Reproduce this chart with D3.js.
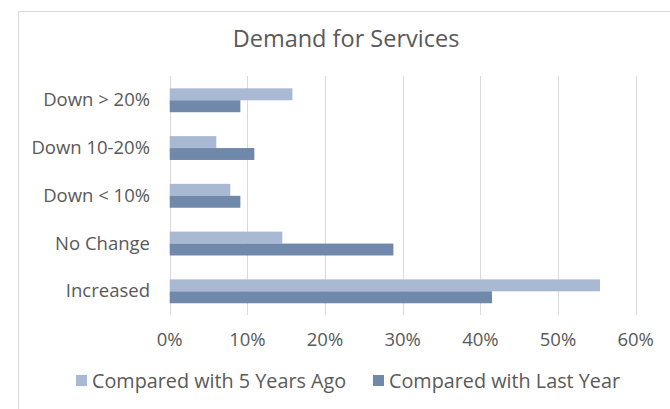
<!DOCTYPE html>
<html>
<head>
  <title>Demand for Services</title>
  <script src="https://d3js.org/d3.v7.min.js"></script>
  <style>
    body { margin: 0; background: #fff; }
    text { font-family: "Open Sans", sans-serif; fill: #595959; }
  </style>
</head>
<body>
  <svg id="chart"></svg>
  <script>
    // data
    const categories = ["Down > 20%", "Down 10-20%", "Down < 10%", "No Change", "Increased"];
    const seriesNames = ["Compared with 5 Years Ago", "Compared with Last Year"];
    const fiveYearsAgo = [0.158, 0.060, 0.078, 0.145, 0.554];
    const lastYear = [0.091, 0.109, 0.091, 0.288, 0.415];
    const xTicks = [0, 0.1, 0.2, 0.3, 0.4, 0.5, 0.6];
    const colors = ["#a9b9d3", "#7089ab"];

    const W = 670, H = 409;
    const svg = d3.select("#chart").attr("width", W).attr("height", H);

    // chart border (only left and top visible in the crop)
    svg.append("rect")
      .attr("x", 18.5).attr("y", 11.5)
      .attr("width", 700).attr("height", 420)
      .attr("fill", "none").attr("stroke", "#d9d9d9");

    svg.append("text")
      .attr("x", 346).attr("y", 47)
      .attr("text-anchor", "middle")
      .style("font-size", "23.5px")
      .text("Demand for Services");

    const x = d3.scaleLinear().domain([0, 0.6]).range([169.7, 635.7]);
    const y = d3.scaleBand().domain(categories).range([76.4, 315.2])
      .paddingInner(0.5).paddingOuter(0.25);
    const sub = d3.scaleBand().domain([0, 1]).range([0, y.bandwidth()]);

    // gridlines
    svg.append("g").selectAll("line")
      .data(xTicks).enter().append("line")
      .attr("x1", d => Math.round(x(d)) + 0.5).attr("x2", d => Math.round(x(d)) + 0.5)
      .attr("y1", 76).attr("y2", 315)
      .attr("stroke", "#d9d9d9").attr("stroke-width", 1);

    // x tick labels
    svg.append("g").selectAll("text")
      .data(xTicks).enter().append("text")
      .attr("x", d => x(d)).attr("y", 346)
      .attr("text-anchor", "middle")
      .style("font-size", "18.5px")
      .text(d3.format(".0%"));

    // category labels
    svg.append("g").selectAll("text")
      .data(categories).enter().append("text")
      .attr("x", 150).attr("y", d => y(d) + y.bandwidth() / 2 + 6)
      .attr("text-anchor", "end")
      .style("font-size", "18.5px")
      .text(d => d);

    // bars
    const series = [fiveYearsAgo, lastYear];
    series.forEach((vals, si) => {
      svg.append("g").selectAll("rect")
        .data(vals).enter().append("rect")
        .attr("x", x(0))
        .attr("y", (d, i) => y(categories[i]) + sub(si))
        .attr("width", d => x(d) - x(0))
        .attr("height", sub.bandwidth())
        .attr("fill", colors[si]);
    });

    // legend
    const legendX = [76, 373];
    const leg = svg.append("g").selectAll("g")
      .data(seriesNames).enter().append("g")
      .attr("transform", (d, i) => "translate(" + legendX[i] + ",375)");
    leg.append("rect").attr("width", 11).attr("height", 11)
      .attr("fill", (d, i) => colors[i]);
    leg.append("text").attr("x", 16).attr("y", 12.5)
      .style("font-size", "19.8px")
      .text(d => d);
  </script>
</body>
</html>
